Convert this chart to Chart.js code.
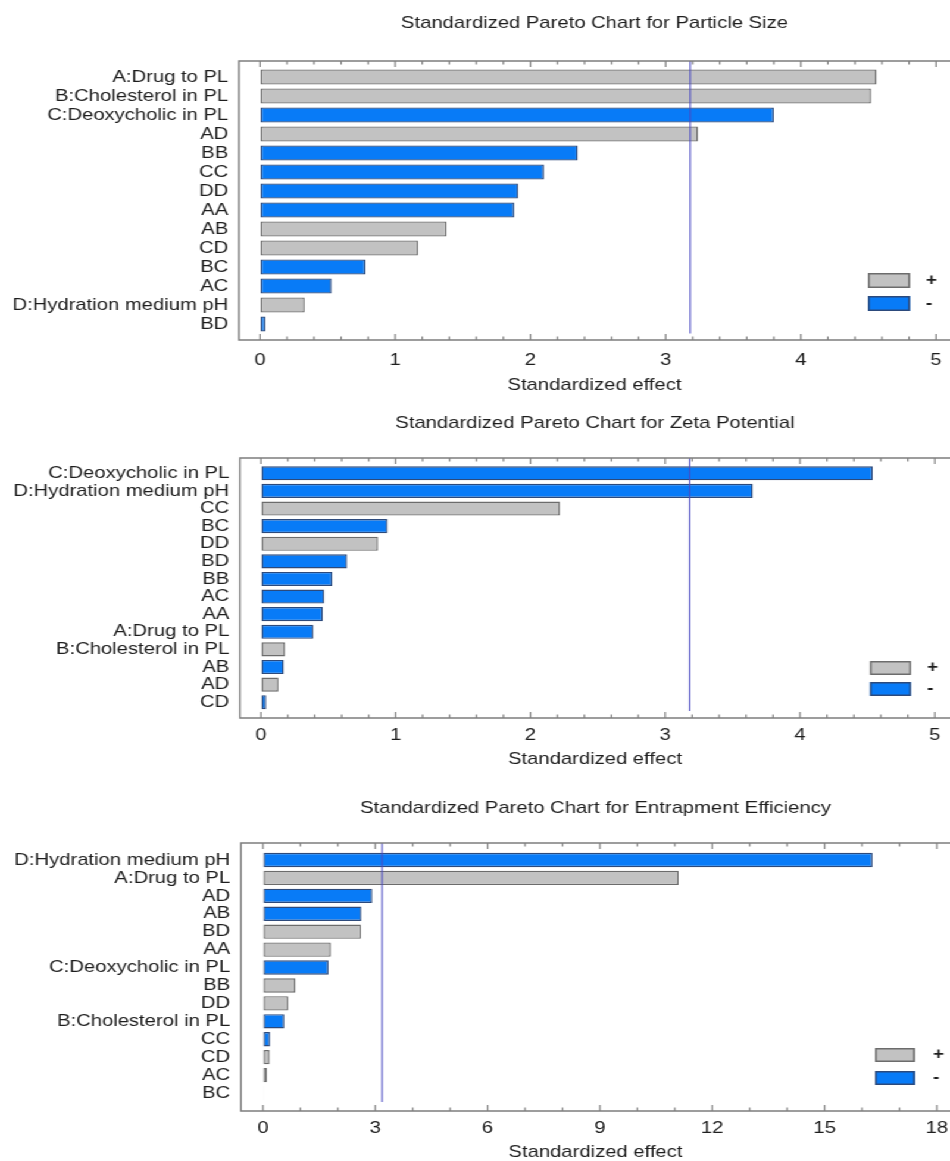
<!DOCTYPE html>
<html>
<head>
<meta charset="utf-8">
<title>Standardized Pareto Charts</title>
<script src="https://cdn.jsdelivr.net/npm/chart.js@4.4.1/dist/chart.umd.min.js"></script>
<style>
  html, body { margin: 0; padding: 0; background: #fff; width: 950px; height: 1161px; overflow: hidden; }
  /* the exported figure uses wide lettering: lay out at 798px and stretch to 950px */
  #stage { position: absolute; left: 0; top: 0; width: 798px; height: 1168px;
           transform: scaleX(1.190476); transform-origin: 0 0; }
  .panel { position: absolute; left: 0; width: 798px; }
</style>
</head>
<body>
<div id="stage">
  <div class="panel" style="top:0;height:396px"><canvas id="chartSize"></canvas></div>
  <div class="panel" style="top:396px;height:384px"><canvas id="chartZeta"></canvas></div>
  <div class="panel" style="top:780px;height:388px"><canvas id="chartEE"></canvas></div>
</div>
<script>
// ---- Particle size ----
const sizeTerms   = ['A:Drug to PL', 'B:Cholesterol in PL', 'C:Deoxycholic in PL', 'AD', 'BB', 'CC', 'DD', 'AA', 'AB', 'CD', 'BC', 'AC', 'D:Hydration medium pH', 'BD'];
const sizeEffects = [4.56, 4.52, 3.80, 3.24, 2.35, 2.10, 1.91, 1.88, 1.38, 1.17, 0.78, 0.53, 0.33, 0.04];
const sizeSigns   = ['+', '+', '-', '+', '-', '-', '-', '-', '+', '+', '-', '-', '+', '-'];
const sizeTicks   = [0, 1, 2, 3, 4, 5];

// ---- Zeta potential ----
const zetaTerms   = ['C:Deoxycholic in PL', 'D:Hydration medium pH', 'CC', 'BC', 'DD', 'BD', 'BB', 'AC', 'AA', 'A:Drug to PL', 'B:Cholesterol in PL', 'AB', 'AD', 'CD'];
const zetaEffects = [4.54, 3.65, 2.22, 0.94, 0.87, 0.64, 0.53, 0.47, 0.46, 0.39, 0.18, 0.17, 0.13, 0.04];
const zetaSigns   = ['-', '-', '+', '-', '+', '-', '-', '-', '-', '-', '+', '-', '+', '-'];
const zetaTicks   = [0, 1, 2, 3, 4, 5];

// ---- Entrapment efficiency ----
const eeTerms   = ['D:Hydration medium pH', 'A:Drug to PL', 'AD', 'AB', 'BD', 'AA', 'C:Deoxycholic in PL', 'BB', 'DD', 'B:Cholesterol in PL', 'CC', 'CD', 'AC', 'BC'];
const eeEffects = [16.28, 11.10, 2.92, 2.63, 2.62, 1.81, 1.75, 0.87, 0.68, 0.57, 0.19, 0.18, 0.11, 0.02];
const eeSigns   = ['-', '+', '-', '-', '+', '+', '-', '+', '+', '-', '-', '+', '+', '+'];
const eeTicks   = [0, 3, 6, 9, 12, 15, 18];

// significance limit (t, 3 df, alpha = 0.05)
const criticalEffect = 3.182;
const signLabels = ['+', '-'];

const INK = '#1e1e1e';
const FONT = { family: '"Liberation Sans", Arial, sans-serif', size: 17, lineHeight: 1.2 };
const GRAY = '#c2c2c2', GRAY_EDGE = '#6c6c6c';
const BLUE = '#087bf7', BLUE_EDGE = '#2c4a7c';

// Box frame with inward ticks, the significance line and the +/- key
const paretoFrame = {
  id: 'paretoFrame',
  afterDatasetsDraw(chart, args, opts) {
    const { ctx, chartArea: a, scales: { x } } = chart;
    const top = a.top - opts.padTop;
    const bottom = a.bottom + opts.padBottom;
    ctx.save();

    const lx = x.getPixelForValue(opts.critical);
    ctx.strokeStyle = '#4a4ac2';
    ctx.lineWidth = 1.1;
    ctx.beginPath();
    ctx.moveTo(lx, top);
    ctx.lineTo(lx, a.bottom);
    ctx.stroke();

    ctx.strokeStyle = '#7e7e7e';
    ctx.lineWidth = 1.4;
    ctx.beginPath();
    ctx.moveTo(a.right + 4, top);
    ctx.lineTo(a.left, top);
    ctx.lineTo(a.left, bottom);
    ctx.lineTo(a.right + 4, bottom);
    ctx.stroke();

    ctx.lineWidth = 1.2;
    const count = Math.floor(x.max / opts.minor + 1e-6);
    for (let i = 0; i <= count; i++) {
      const v = i * opts.minor;
      const r = v / opts.major;
      const len = Math.abs(r - Math.round(r)) < 1e-6 ? 6 : 3.5;
      const px = x.getPixelForValue(v);
      ctx.beginPath();
      ctx.moveTo(px, top); ctx.lineTo(px, top + len);
      ctx.moveTo(px, bottom); ctx.lineTo(px, bottom - len);
      ctx.stroke();
    }

    const L = opts.key;
    chart.data.datasets.forEach((ds, i) => {
      const y = L.y + i * L.step;
      ctx.fillStyle = ds.backgroundColor;
      ctx.fillRect(L.x, y, L.w, L.h);
      ctx.strokeStyle = ds.borderColor;
      ctx.lineWidth = 1.5;
      ctx.strokeRect(L.x + 0.75, y + 0.75, L.w - 1.5, L.h - 1.5);
      ctx.fillStyle = INK;
      ctx.font = 'bold 16px "Liberation Sans", Arial, sans-serif';
      ctx.textBaseline = 'middle';
      ctx.textAlign = 'left';
      ctx.fillText(ds.label, L.tx, y + L.h / 2);
    });
    ctx.restore();
  }
};

function paretoChart(id, title, terms, effects, signs, ticks, geo) {
  const bySign = s => effects.map((v, i) => (signs[i] === s ? v : null));
  return new Chart(document.getElementById(id), {
    type: 'bar',
    data: {
      labels: terms,
      datasets: [
        { label: signLabels[0], data: bySign('+'), backgroundColor: GRAY, borderColor: GRAY_EDGE },
        { label: signLabels[1], data: bySign('-'), backgroundColor: BLUE, borderColor: BLUE_EDGE }
      ]
    },
    options: {
      indexAxis: 'y',
      responsive: true,
      maintainAspectRatio: false,
      animation: false,
      layout: { padding: 0 },
      datasets: { bar: { grouped: false, barPercentage: 0.8, categoryPercentage: 1, borderWidth: 1.4, borderSkipped: false } },
      scales: {
        x: {
          type: 'linear',
          min: geo.xMin,
          max: geo.xMax,
          afterBuildTicks: s => { s.ticks = ticks.map(v => ({ value: v })); },
          afterFit: s => { s.height = geo.xAxisHeight; },
          grid: { display: true, drawOnChartArea: false, drawTicks: true, tickLength: geo.tickGap, tickColor: 'rgba(0,0,0,0)' },
          border: { display: false },
          ticks: { padding: 0, color: INK, font: FONT, maxRotation: 0, autoSkip: false },
          title: { display: true, text: 'Standardized effect', color: INK, font: FONT, padding: { top: 0, bottom: geo.xTitlePad } }
        },
        y: {
          afterFit: s => { s.width = geo.yAxisWidth; },
          grid: { display: false, drawTicks: false },
          border: { display: false },
          ticks: { padding: 9, color: INK, font: FONT, autoSkip: false }
        }
      },
      plugins: {
        legend: { display: false },
        tooltip: { enabled: false },
        title: { display: true, text: title, fullSize: false, color: INK, font: { ...FONT, weight: 'normal' },
                 padding: { top: geo.titleTop, bottom: geo.titleBottom } },
        paretoFrame: { critical: criticalEffect, padTop: geo.padTop, padBottom: geo.padBottom,
                       major: geo.major, minor: geo.minor, key: geo.key }
      }
    },
    plugins: [paretoFrame]
  });
}

paretoChart('chartSize', 'Standardized Pareto Chart for Particle Size',
  sizeTerms, sizeEffects, sizeSigns, sizeTicks,
  { xMin: -0.155, xMax: 5.103, yAxisWidth: 200.8, xAxisHeight: 62.5, tickGap: 16.3, xTitlePad: 0.8,
    titleTop: 12.8, titleBottom: 34.3, padTop: 6.5, padBottom: 6.5, major: 1, minor: 0.2,
    key: { x: 729.1, y: 273, w: 35.3, h: 15, step: 23, tx: 777.8 } });

paretoChart('chartZeta', 'Standardized Pareto Chart for Zeta Potential',
  zetaTerms, zetaEffects, zetaSigns, zetaTicks,
  { xMin: -0.155, xMax: 5.113, yAxisWidth: 201.6, xAxisHeight: 69, tickGap: 13.8, xTitlePad: 10.8,
    titleTop: 17.3, titleBottom: 30.8, padTop: 6.5, padBottom: 7, major: 1, minor: 0.2,
    key: { x: 730.8, y: 265, w: 34.4, h: 14, step: 21, tx: 778.7 } });

paretoChart('chartEE', 'Standardized Pareto Chart for Entrapment Efficiency',
  eeTerms, eeEffects, eeSigns, eeTicks,
  { xMin: -0.588, xMax: 18.35, yAxisWidth: 202.4, xAxisHeight: 66, tickGap: 15.8, xTitlePad: 5.8,
    titleTop: 17.8, titleBottom: 32.8, padTop: 8, padBottom: 9, major: 3, minor: 1,
    key: { x: 735, y: 268, w: 33.6, h: 14, step: 23, tx: 783.7 } });
</script>
</body>
</html>
